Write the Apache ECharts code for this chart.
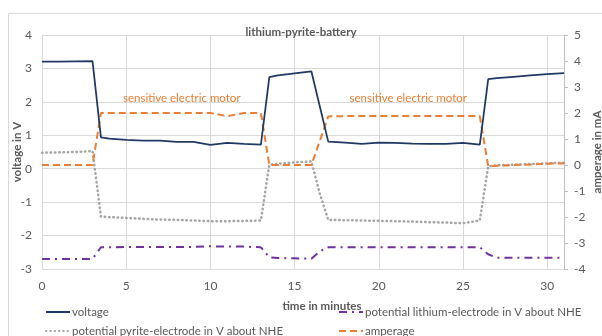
<!DOCTYPE html>
<html><head><meta charset="utf-8">
<script src="https://cdn.jsdelivr.net/npm/echarts@6/dist/echarts.min.js"></script>
<style>html,body{margin:0;padding:0;background:#fff}#c{width:602px;height:336px}</style>
</head><body><div id="c"></div>
<script>
const chartTitle = 'lithium-pyrite-battery';
const xName = 'time in minutes';
const leftName = 'voltage in V';
const rightName = 'amperage in mA';
const names = ['voltage', 'potential lithium-electrode in V about NHE', 'potential pyrite-electrode in V about NHE', 'amperage'];
const annotationText = 'sensitive electric motor';
const annotationCoords = [[8.3, 2.57], [21.75, 2.58]];

const times    = [0, 1, 2, 3, 3.5, 4, 5, 6, 7, 8, 9, 10, 11, 12, 13, 13.5, 14, 15, 16, 16.5, 17, 18, 19, 20, 21, 22, 23, 24, 25, 26, 26.5, 27, 28, 29, 30, 31];
const voltage  = [3.20, 3.20, 3.21, 3.22, 0.94, 0.90, 0.86, 0.84, 0.84, 0.80, 0.80, 0.71, 0.77, 0.74, 0.72, 2.74, 2.79, 2.85, 2.91, 1.86, 0.81, 0.78, 0.74, 0.78, 0.77, 0.75, 0.74, 0.74, 0.77, 0.72, 2.68, 2.71, 2.75, 2.79, 2.83, 2.86];
const amperage = [0.0, 0.0, 0.0, 0.0, 2.0, 2.0, 2.0, 2.0, 2.0, 2.0, 2.0, 2.0, 1.88, 2.0, 2.0, 0.0, 0.0, 0.0, 0.0, 0.93, 1.87, 1.88, 1.88, 1.88, 1.88, 1.88, 1.88, 1.88, 1.88, 1.88, -0.05, -0.03, 0.0, 0.02, 0.05, 0.06];
const pyrite   = [0.48, 0.49, 0.50, 0.53, -1.43, -1.45, -1.47, -1.50, -1.52, -1.53, -1.55, -1.57, -1.57, -1.56, -1.55, 0.12, 0.15, 0.19, 0.22, -0.75, -1.53, -1.54, -1.55, -1.56, -1.57, -1.58, -1.60, -1.61, -1.63, -1.55, 0.07, 0.10, 0.12, 0.14, 0.16, 0.18];
const lithium  = [-2.70, -2.70, -2.70, -2.70, -2.35, -2.35, -2.34, -2.34, -2.34, -2.34, -2.34, -2.32, -2.33, -2.33, -2.35, -2.65, -2.67, -2.68, -2.69, -2.47, -2.35, -2.35, -2.35, -2.35, -2.35, -2.35, -2.35, -2.35, -2.35, -2.35, -2.56, -2.66, -2.66, -2.66, -2.66, -2.66];

const FONT = 'Lato';
const TXT = '#595959';
const pairs = arr => times.map((t, i) => [t, arr[i]]);

const chart = echarts.init(document.getElementById('c'), null, {renderer: 'canvas'});
const legendBase = {
  itemWidth: 24, itemHeight: 10, itemGap: 0,
  itemStyle: {opacity: 0},
  textStyle: {fontFamily: FONT, fontSize: 11.5, color: TXT, padding: [0, 0, 0, -3]}
};
chart.setOption({
  backgroundColor: '#fff',
  animation: false,
  title: {
    text: chartTitle, left: 'center', top: 21,
    textStyle: {fontFamily: FONT, fontSize: 11.5, fontWeight: 'bold', color: TXT}
  },
  graphic: [{
    type: 'rect', shape: {x: 8.5, y: 13.5, width: 700, height: 400},
    style: {fill: 'none', stroke: '#D9D9D9', lineWidth: 1}, silent: true, z: -1
  }],
  legend: [
    Object.assign({data: [names[0]], left: 40, top: 301}, legendBase),
    Object.assign({data: [names[1]], left: 333, top: 301}, legendBase),
    Object.assign({data: [names[2]], left: 40, top: 320}, legendBase),
    Object.assign({data: [names[3]], left: 333, top: 320}, legendBase)
  ],
  grid: {left: 42, right: 38, top: 35, bottom: 67, containLabel: false, outerBoundsMode: 'none'},
  xAxis: {
    type: 'value', min: 0, max: 31, interval: 5,
    name: xName, nameLocation: 'middle', nameGap: 31, nameMoveOverlap: false,
    nameTextStyle: {fontFamily: FONT, fontSize: 11.5, fontWeight: 'bold', color: TXT, padding: [0, 0, 0, 38]},
    axisLine: {show: true, lineStyle: {color: '#D9D9D9'}},
    axisTick: {show: false},
    axisLabel: {fontFamily: FONT, fontSize: 12, color: TXT, margin: 11,
      formatter: v => (v % 5 === 0 ? String(v) : '')},
    splitLine: {show: true, lineStyle: {color: '#D9D9D9'}}
  },
  yAxis: [{
    type: 'value', min: -3, max: 4, interval: 1, position: 'left',
    name: leftName, nameLocation: 'middle', nameRotate: 90, nameGap: 19, nameMoveOverlap: false,
    nameTextStyle: {fontFamily: FONT, fontSize: 11.5, fontWeight: 'bold', color: TXT},
    axisLine: {show: true, lineStyle: {color: '#D9D9D9'}},
    axisTick: {show: false},
    axisLabel: {fontFamily: FONT, fontSize: 12, color: TXT, margin: 10},
    splitLine: {show: true, lineStyle: {color: '#D9D9D9'}}
  }, {
    type: 'value', min: -4, max: 5, interval: 1, position: 'right',
    name: rightName, nameLocation: 'middle', nameRotate: 90, nameGap: 27, nameMoveOverlap: false,
    nameTextStyle: {fontFamily: FONT, fontSize: 11.5, fontWeight: 'bold', color: TXT},
    axisLine: {show: true, lineStyle: {color: '#BFBFBF'}},
    axisTick: {show: true, length: 4, lineStyle: {color: '#BFBFBF'}},
    axisLabel: {fontFamily: FONT, fontSize: 12, color: TXT, margin: 10},
    splitLine: {show: false}
  }],
  series: [{
    name: names[0], type: 'line', yAxisIndex: 0, data: pairs(voltage),
    symbol: 'none', lineStyle: {color: '#203864', width: 1.75}, itemStyle: {color: '#203864'}, z: 5
  }, {
    name: names[1], type: 'line', yAxisIndex: 0, data: pairs(lithium),
    symbol: 'none', lineStyle: {color: '#7030A0', width: 2, type: [8, 5, 2, 5]}, itemStyle: {color: '#7030A0'}
  }, {
    name: names[2], type: 'line', yAxisIndex: 0, data: pairs(pyrite),
    symbol: 'none', lineStyle: {color: '#A5A5A5', width: 2.5, type: [0.5, 3.8], cap: 'round'}, itemStyle: {color: '#A5A5A5'}
  }, {
    name: names[3], type: 'line', yAxisIndex: 1, data: pairs(amperage),
    symbol: 'none', lineStyle: {color: '#ED7D31', width: 2, type: [7, 4]}, itemStyle: {color: '#ED7D31'},
    markPoint: {
      symbol: 'circle', symbolSize: 0, silent: true,
      label: {show: true, position: 'inside', formatter: annotationText,
        fontFamily: FONT, fontSize: 11.5, color: '#ED7D31'},
      data: annotationCoords.map(c => ({coord: c}))
    }
  }]
});
</script></body></html>
